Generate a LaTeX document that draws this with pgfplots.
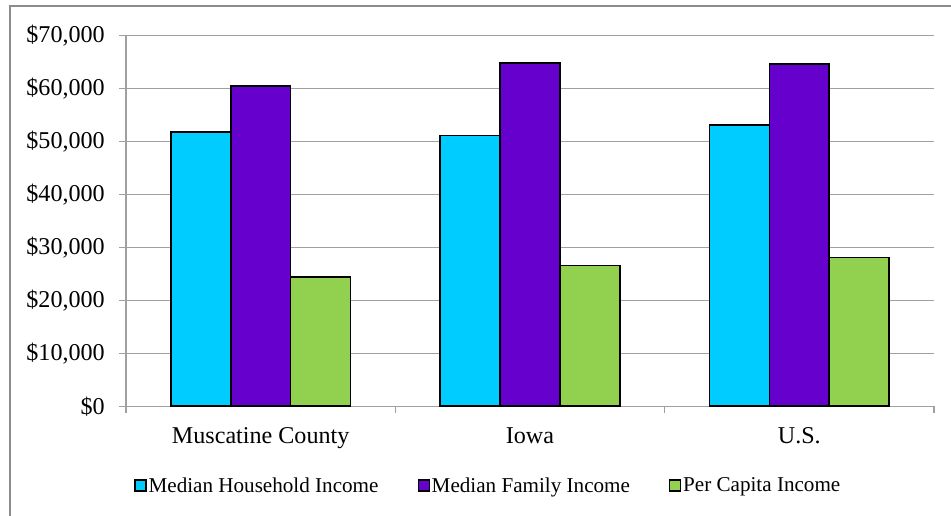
\documentclass[border=0pt]{standalone}
\usepackage{pgfplots}
\pgfplotsset{compat=1.18}
\usepackage{fontspec}
\setmainfont{Liberation Serif}
\definecolor{cyanbar}{RGB}{0,204,255}
\definecolor{purplebar}{RGB}{102,0,204}
\definecolor{greenbar}{RGB}{146,208,80}
\definecolor{gridgray}{RGB}{160,160,160}
\definecolor{bordergray}{RGB}{140,140,140}
\begin{document}
\begin{tikzpicture}
\path[use as bounding box] (0bp,0bp) rectangle (951bp,516bp);
\draw[bordergray, line width=1.2bp] (10bp,0bp) -- (10bp,510bp) -- (951bp,510bp);
\begin{axis}[
  at={(126bp,109.7bp)}, anchor=south west,
  width=808bp, height=371bp, scale only axis,
  ybar=0pt, bar width=59.9bp,
  xmin=-0.5, xmax=2.5, ymin=0, ymax=70000,
  xtick={0,1,2}, xticklabels={Muscatine County, Iowa, U.S.},
  minor xtick={-0.5,0.5,1.5,2.5},
  ytick={0,10000,...,70000},
  scaled y ticks=false,
  axis x line*=bottom, axis y line*=left,
  axis line style={gridgray, line width=1.2bp},
  ymajorgrids, major grid style={gridgray, line width=1.2bp},
  tick align=outside, major tick length=7bp, minor tick length=7bp,
  tick style={gridgray, line width=1.2bp},
  every major x tick/.append style={draw=none},
  /pgf/number format/.cd, fixed, precision=0, 1000 sep={,}, assume math mode=true,
  /pgfplots/.cd,
  yticklabel={\$\pgfmathprintnumber{\tick}},
  ticklabel style={font=\fontsize{24.2}{29}\selectfont},
  yticklabel style={inner sep=0pt, xshift=-14bp},
  xticklabel style={inner sep=0pt, yshift=-14bp},
  legend columns=3,
  legend style={at={(0.4485,-0.2135)}, anchor=center, draw=none, fill=none,
    font=\fontsize{21.2}{25}\selectfont,
    /tikz/every even column/.append style={column sep=37bp},
    nodes={inner sep=2bp}},
  legend image code/.code={\draw[#1,line width=1.2bp] (0bp,-5.5bp) rectangle (11bp,5.5bp);},
]
\addplot[fill=cyanbar, draw=black, line width=1.6bp] coordinates {(0,51700) (1,51100) (2,53100)};
\addplot[fill=purplebar, draw=black, line width=1.6bp] coordinates {(0,60400) (1,64800) (2,64600)};
\addplot[fill=greenbar, draw=black, line width=1.6bp] coordinates {(0,24400) (1,26600) (2,28100)};
\legend{Median Household Income, Median Family Income, Per Capita Income}
\end{axis}
\end{tikzpicture}
\end{document}
